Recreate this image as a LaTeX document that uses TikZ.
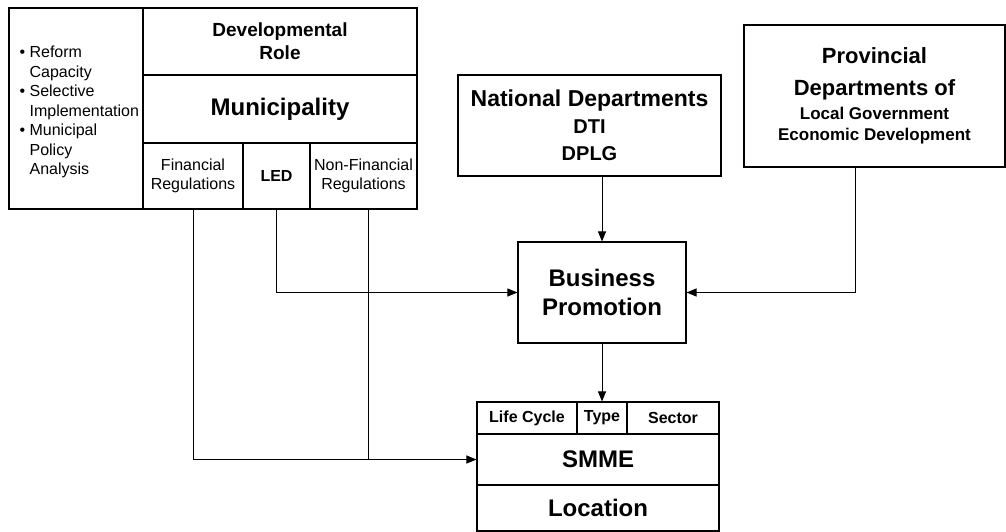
\documentclass[tikz,border=0pt]{standalone}
\usepackage{fontspec}
\setmainfont{Liberation Sans}
\usetikzlibrary{arrows.meta}

\begin{document}
\begin{tikzpicture}[x=1pt, y=-1pt]

\tikzstyle{every node} = [rectangle, draw, line width=1.1pt, inner sep=0pt, align=center]
\tikzstyle{txt} = [draw=none, font=\fontsize{16}{19.5}\selectfont]
\tikzstyle{bld} = [font=\bfseries\fontsize{16}{18.5}\selectfont]
\tikzstyle{big} = [font=\bfseries\fontsize{24}{29}\selectfont]
\tikzstyle{link} = [line width=1pt]
\tikzstyle{arr} = [line width=1pt, -{Triangle[length=10pt,width=8pt]}]

\useasboundingbox (0,0) rectangle (1006,532);

% municipality block
\node (side) at (76,108.5) [minimum width=134, minimum height=201] {};
\node[txt, anchor=west] (sidetxt) at (19,112) [align=left]
  {• Reform\\\phantom{• }Capacity\\• Selective\\\phantom{• }Implementation\\• Municipal\\\phantom{• }Policy\\\phantom{• }Analysis};

\node (dev) at (280,41.5) [minimum width=274, minimum height=67,
  font=\bfseries\fontsize{19}{23}\selectfont] {Developmental\\Role};
\node (mun) at (280,109) [minimum width=274, minimum height=68,
  font=\bfseries\fontsize{24}{29}\selectfont] {Municipality};
\node (fin) at (193,176) [minimum width=100, minimum height=66,
  font=\fontsize{16}{18.5}\selectfont] {Financial\\Regulations};
\node (led) at (276.5,176) [bld, minimum width=67, minimum height=66] {LED};
\node (nonfin) at (363.5,176) [minimum width=107, minimum height=66,
  font=\fontsize{16}{18.5}\selectfont] {Non-Financial\\Regulations};

% departments
\node (nat) at (589.5,125.5) [minimum width=263, minimum height=101,
  font=\bfseries\fontsize{20}{27}\selectfont]
  {{\fontsize{23}{27}\selectfont National Departments}\\DTI\\DPLG};
\node (prov) at (874.5,96) [minimum width=261, minimum height=142,
  font=\bfseries\fontsize{17}{21}\selectfont]
  {{\fontsize{22}{31}\selectfont Provincial}\\[11pt]{\fontsize{22}{26}\selectfont Departments of}\\[3pt]Local Government\\Economic Development};

\node (bp) at (602,292.5) [big, minimum width=168, minimum height=101] {Business\\Promotion};

% SMME block
\node (life) at (527,418) [bld, minimum width=100, minimum height=32] {Life Cycle};
\node (type) at (602,418) [bld, minimum width=50, minimum height=32] {Type};
\node (sector) at (673,418) [bld, minimum width=92, minimum height=32] {Sector};
\node (smme) at (598,459.5) [big, minimum width=242, minimum height=51] {SMME};
\node (loc) at (598,508) [big, minimum width=242, minimum height=46] {Location};

\coordinate (j) at ([xshift=4.5]nonfin.south |- smme.west);

\draw[arr] (bp.north |- nat.south) -- (bp.north);
\draw[arr] ([xshift=-19.5]prov.south) |- (bp.east);
\draw[arr] (led.south) |- (bp.west);
\draw[arr] (bp.south) -- (type.north);
\draw[arr] (fin.south) |- (smme.west);
\draw[link] ([xshift=4.5]nonfin.south) -- (j);
\end{tikzpicture}
\end{document}
